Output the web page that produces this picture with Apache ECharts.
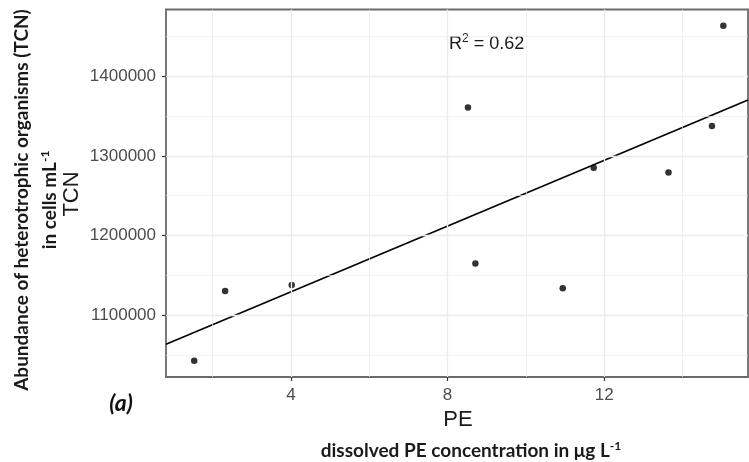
<!DOCTYPE html>
<html>
<head>
<meta charset="utf-8">
<script src="https://cdn.jsdelivr.net/npm/echarts@6/dist/echarts.min.js"></script>
<style>html,body{margin:0;padding:0;background:#fff;}#c{width:749px;height:462px;}</style>
</head>
<body>
<div id="c"></div>
<script>
// ---- data ----
var peValues  = [1.53, 2.32, 4.02, 8.52, 8.71, 10.94, 11.73, 13.64, 14.75, 15.04];
var tcnValues = [1042600, 1130200, 1137700, 1360600, 1164800, 1133500, 1284900, 1279000, 1337600, 1463600];
var fitX = [0.81, 15.67];
var fitY = [1063200, 1370200];
var xTicks = [4, 8, 12];
var xMinor = [2, 6, 10, 14];
var yTicks = [1100000, 1200000, 1300000, 1400000];
var yMinor = [1050000, 1150000, 1250000, 1350000, 1450000];
var r2Label = '0.62';

var points = peValues.map(function (v, i) { return [v, tcnValues[i]]; });
var fitLine = fitX.map(function (v, i) { return [v, fitY[i]]; });

var gridLines = [];
xMinor.forEach(function (v) { gridLines.push({ xAxis: v, lineStyle: { width: 0.7 } }); });
yMinor.forEach(function (v) { gridLines.push({ yAxis: v, lineStyle: { width: 0.7 } }); });
xTicks.forEach(function (v) { gridLines.push({ xAxis: v, lineStyle: { width: 1.3 } }); });
yTicks.forEach(function (v) { gridLines.push({ yAxis: v, lineStyle: { width: 1.3 } }); });

var chart = echarts.init(document.getElementById('c'));
var tickFont = { color: '#4D4D4D', fontFamily: 'Liberation Sans', fontSize: 17 };
var boldFont = { fontFamily: 'Lato', fontWeight: 'bold', fontSize: 19, fill: '#1a1a1a' };
var supFont = { fontFamily: 'Lato', fontWeight: 'bold', fontSize: 12, fill: '#1a1a1a', verticalAlign: 'top', padding: [0, 0, 9, 0] };
chart.setOption({
  animation: false,
  grid: { left: 166, right: 1, top: 9.5, bottom: 85, show: true, borderColor: '#6a6a6a', borderWidth: 1.8, backgroundColor: 'transparent' },
  xAxis: {
    type: 'value', min: 0.81, max: 15.67,
    splitLine: { show: false },
    axisLine: { show: false },
    axisTick: { show: true, length: 4, lineStyle: { color: '#333', width: 1.2 }, customValues: xTicks },
    axisLabel: Object.assign({ margin: 10, customValues: xTicks }, tickFont)
  },
  yAxis: {
    type: 'value', min: 1022100, max: 1483900,
    splitLine: { show: false },
    axisLine: { show: false },
    axisTick: { show: true, length: 4, lineStyle: { color: '#333', width: 1.2 }, customValues: yTicks },
    axisLabel: Object.assign({ margin: 10, customValues: yTicks, formatter: function (v) { return String(v); } }, tickFont)
  },
  series: [
    {
      type: 'line', data: [], silent: true,
      markLine: { silent: true, symbol: 'none', label: { show: false }, lineStyle: { color: '#EBEBEB', type: 'solid' }, data: gridLines },
      z: 1
    },
    {
      type: 'line', data: fitLine, showSymbol: false, symbol: 'none', silent: true,
      lineStyle: { color: '#000', width: 1.6 }, z: 3
    },
    {
      type: 'scatter', data: points, symbol: 'circle', symbolSize: 6.5,
      itemStyle: { color: '#000' }, z: 4
    }
  ],
  graphic: [
    { type: 'text', x: 449, y: 44, style: { text: '{r|R}{s|2}{r| = ' + r2Label + '}', verticalAlign: 'middle', align: 'left',
        rich: { r: { fontFamily: 'Liberation Sans', fontSize: 18, fill: '#1a1a1a' }, s: { fontFamily: 'Liberation Sans', fontSize: 12, fill: '#1a1a1a', verticalAlign: 'top', padding: [0, 0, 11, 0] } } } },
    { type: 'text', x: 72, y: 194, rotation: Math.PI / 2, style: { text: 'TCN', align: 'center', verticalAlign: 'middle', fontFamily: 'Liberation Sans', fontSize: 22, fill: '#1a1a1a' } },
    { type: 'text', x: 458, y: 420, style: { text: 'PE', align: 'center', verticalAlign: 'middle', fontFamily: 'Liberation Sans', fontSize: 22, fill: '#1a1a1a' } },
    { type: 'text', x: 22, y: 200, rotation: Math.PI / 2, style: Object.assign({ text: 'Abundance of heterotrophic organisms (TCN)', align: 'center', verticalAlign: 'middle' }, boldFont) },
    { type: 'text', x: 50, y: 200, rotation: Math.PI / 2, style: { text: '{t|in cells mL}{s|-1}', align: 'center', verticalAlign: 'middle', rich: { t: boldFont, s: supFont } } },
    { type: 'text', x: 471, y: 451, style: { text: '{t|dissolved PE concentration in μg L}{s|-1}', align: 'center', verticalAlign: 'middle', rich: { t: boldFont, s: supFont } } },
    { type: 'text', x: 121, y: 404, style: { text: '(a)', align: 'center', verticalAlign: 'middle', fontFamily: 'Lato', fontWeight: 'bold', fontStyle: 'italic', fontSize: 23, fill: '#111' } }
  ]
});
</script>
</body>
</html>
